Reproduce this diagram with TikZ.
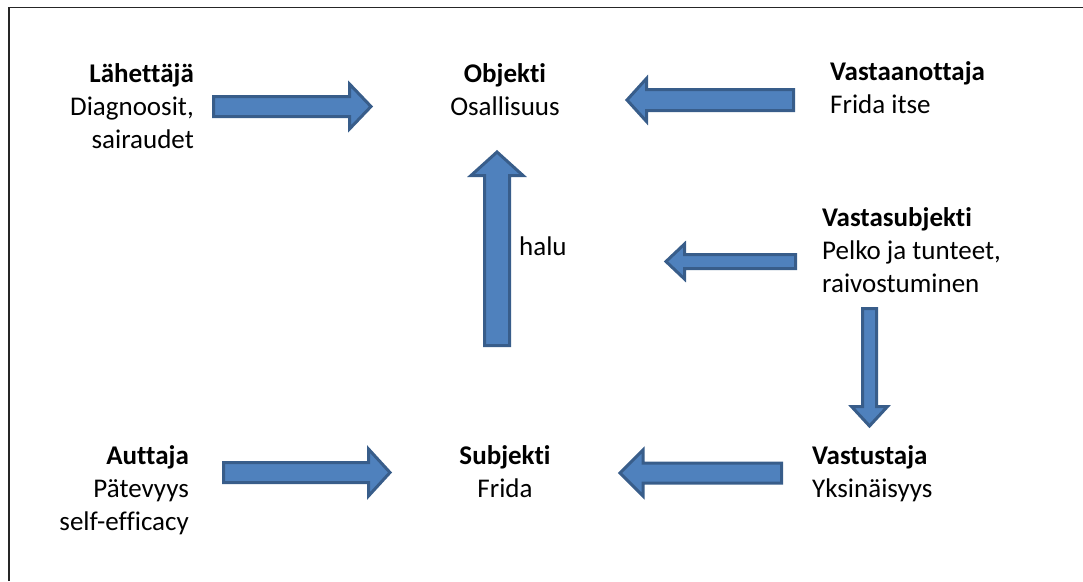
\documentclass[tikz,border=0pt]{standalone}
\usepackage{fontspec}
\setmainfont[Ligatures=CommonOff]{Carlito}
\usetikzlibrary{calc}
\definecolor{arrowfill}{HTML}{4F81BD}
\definecolor{arrowline}{HTML}{385D8A}
\tikzset{
  role/.style={font=\fontsize{27}{33}\selectfont,inner sep=0pt},
  blockarrow/.style={draw=arrowline,fill=arrowfill,line width=3pt,line join=miter},
  frameline/.style={line width=1.3pt,draw=black!85}
}
% block arrow: tail, tip, shaft half width, head half width, head length
\newcommand{\blockarrow}[5]{%
  \coordinate (hb) at ($(#2)!#5!(#1)$);
  \draw[blockarrow] ($(#1)!#3!90:(#2)$) -- ($(hb)!#3!90:(#2)$) -- ($(hb)!#4!90:(#2)$)
    -- (#2) -- ($(hb)!#4!-90:(#2)$) -- ($(hb)!#3!-90:(#2)$) -- ($(#1)!#3!-90:(#2)$) -- cycle;
}

\begin{document}
\begin{tikzpicture}[x=1pt,y=-1pt]
  \useasboundingbox (0,0) rectangle (1083,581);
  \draw[frameline] (9,581) -- (9,7.5) -- (1083,7.5);

  % roles (anchored at the baseline of the last line)
  \node[role,align=right,anchor=base east] (lahettaja) at (194,148)
    {\textbf{Lähettäjä}\\Diagnoosit,\\sairaudet};
  \node[role,align=center,anchor=base] (objekti) at (505,115)
    {\textbf{Objekti}\\Osallisuus};
  \node[role,align=left,anchor=base west] (vastaanottaja) at (830,113)
    {\textbf{Vastaanottaja}\\Frida itse};
  \node[role,align=left,anchor=base west] (vastasubjekti) at (822,292)
    {\textbf{Vastasubjekti}\\Pelko ja tunteet,\\raivostuminen};
  \node[role,anchor=base west] (halu) at (519,255) {halu};
  \node[role,align=right,anchor=base east] (auttaja) at (189,530)
    {\textbf{Auttaja}\\Pätevyys\\self-efficacy};
  \node[role,align=center,anchor=base] (subjekti) at (505,497)
    {\textbf{Subjekti}\\Frida};
  \node[role,align=left,anchor=base west] (vastustaja) at (812,497)
    {\textbf{Vastustaja}\\Yksinäisyys};

  % arrow ends
  \coordinate (lah-out) at (213.5,106.5);
  \coordinate (obj-w) at (371,106.5);
  \coordinate (vao-out) at (793.5,100);
  \coordinate (obj-e) at (627,100);
  \coordinate (aut-out) at (223.5,472.5);
  \coordinate (sub-w) at (390,472.5);
  \coordinate (vst-out) at (781.5,473);
  \coordinate (sub-e) at (620,473);
  \coordinate (vsb-out) at (795.5,261.5);
  \coordinate (mid-e) at (666,261.5);
  \coordinate (vsb-down) at (869.5,308.5);
  \coordinate (vst-in) at (869.5,426);
  \coordinate (sub-up) at (497,345.5);
  \coordinate (obj-s) at (497,152);

  \blockarrow{lah-out}{obj-w}{10pt}{22.5pt}{21.5pt}
  \blockarrow{vao-out}{obj-e}{10.5pt}{21.5pt}{19.5pt}
  \blockarrow{aut-out}{sub-w}{10pt}{23.5pt}{21.5pt}
  \blockarrow{vst-out}{sub-e}{10pt}{23pt}{23pt}
  \blockarrow{vsb-out}{mid-e}{7pt}{17.5pt}{18.5pt}
  \blockarrow{vsb-down}{vst-in}{7pt}{18pt}{19.5pt}
  \blockarrow{sub-up}{obj-s}{12.5pt}{26pt}{23.5pt}
\end{tikzpicture}
\end{document}
